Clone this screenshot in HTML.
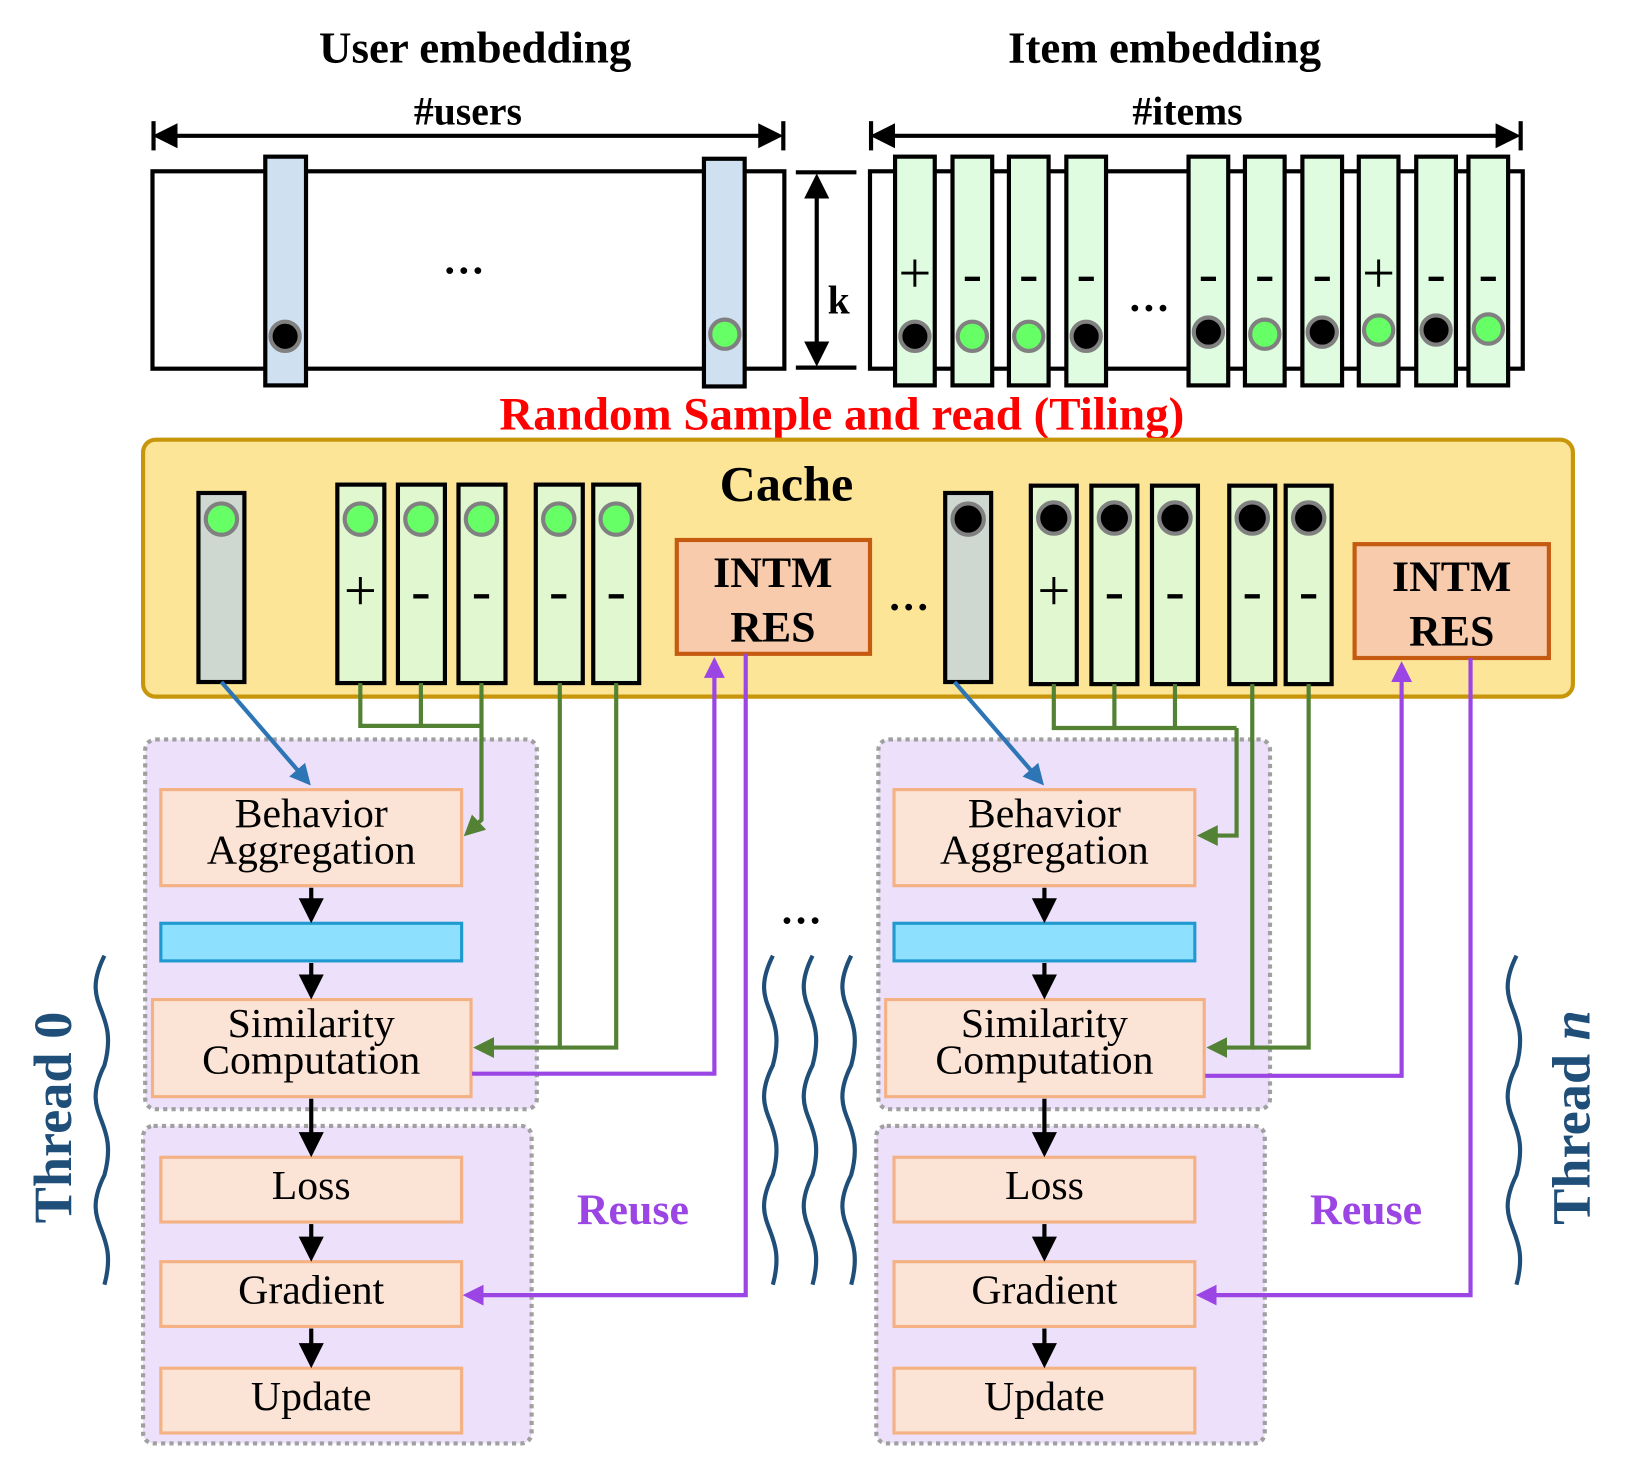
<!DOCTYPE html><html><head><style>body{margin:0;background:#fff}svg{display:block}</style></head><body>
<svg width="1646" height="1457" viewBox="0 0 1576 1395" preserveAspectRatio="none" xmlns="http://www.w3.org/2000/svg" font-family="Liberation Serif, serif">
<defs>
<marker id="ak" markerWidth="6" markerHeight="6" refX="5" refY="3" orient="auto-start-reverse" markerUnits="strokeWidth"><path d="M0,0L6,3L0,6z" fill="#000"/></marker>
<marker id="ab" markerWidth="5" markerHeight="5" refX="4" refY="2.5" orient="auto" markerUnits="strokeWidth"><path d="M0,0L5,2.5L0,5z" fill="#2e75b6"/></marker>
<marker id="ag" markerWidth="5" markerHeight="5" refX="4" refY="2.5" orient="auto" markerUnits="strokeWidth"><path d="M0,0L5,2.5L0,5z" fill="#548235"/></marker>
<marker id="ap" markerWidth="5" markerHeight="5" refX="4" refY="2.5" orient="auto" markerUnits="strokeWidth"><path d="M0,0L5,2.5L0,5z" fill="#9b45e4"/></marker>
</defs>
<g font-weight="bold" text-anchor="middle" font-size="43">
<text x="455" y="60">User embedding</text><text x="1115" y="60">Item embedding</text>
<text x="448" y="119" font-size="38">#users</text><text x="1137" y="119" font-size="38">#items</text>
<text x="806" y="411" fill="#f00" font-size="45">Random Sample and read (Tiling)</text>
</g>
<g stroke="#000" stroke-width="4" fill="none">
<line x1="147" y1="116" x2="147" y2="144"/><line x1="750" y1="116" x2="750" y2="144"/>
<line x1="150" y1="130" x2="746" y2="130" marker-start="url(#ak)" marker-end="url(#ak)"/>
<line x1="834" y1="116" x2="834" y2="144"/><line x1="1456" y1="116" x2="1456" y2="144"/>
<line x1="837" y1="130" x2="1452" y2="130" marker-start="url(#ak)" marker-end="url(#ak)"/>
<line x1="762" y1="165" x2="820" y2="165"/><line x1="762" y1="352" x2="820" y2="352"/>
<line x1="782" y1="170" x2="782" y2="347" marker-start="url(#ak)" marker-end="url(#ak)"/>
<rect x="146" y="164" width="605" height="189"/><rect x="833" y="164" width="625" height="189"/>
</g>
<text x="803" y="300" font-size="38" font-weight="bold" text-anchor="middle">k</text>
<text x="444" y="262" font-size="40" font-weight="bold" text-anchor="middle">…</text>
<text x="1100" y="298" font-size="40" font-weight="bold" text-anchor="middle">…</text>
<g stroke="#000" stroke-width="4" fill="#cfe0f0"><rect x="254" y="150" width="39" height="219"/><rect x="674" y="152" width="39" height="218"/></g>
<g stroke="#808080" stroke-width="4"><circle cx="273" cy="322" r="14" fill="#000"/><circle cx="694" cy="320" r="14" fill="#66ff66"/></g>
<g stroke="#000" stroke-width="4" fill="#e0fce0">
<rect x="857" y="150" width="38" height="219"/><rect x="912" y="150" width="38" height="219"/><rect x="966" y="150" width="38" height="219"/><rect x="1021" y="150" width="38" height="219"/><rect x="1138" y="150" width="38" height="219"/><rect x="1192" y="150" width="38" height="219"/><rect x="1247" y="150" width="38" height="219"/><rect x="1301" y="150" width="38" height="219"/><rect x="1356" y="150" width="38" height="219"/><rect x="1406" y="150" width="38" height="219"/>
</g>
<g font-size="56" text-anchor="middle">
<text x="876" y="280">+</text><text x="931" y="280">-</text><text x="985" y="280">-</text><text x="1040" y="280">-</text><text x="1157" y="280">-</text><text x="1211" y="280">-</text><text x="1266" y="280">-</text><text x="1320" y="280">+</text><text x="1375" y="280">-</text><text x="1425" y="280">-</text>
</g>
<g stroke="#808080" stroke-width="4">
<circle cx="876" cy="322" r="14" fill="#000"/><circle cx="931" cy="322" r="14" fill="#66ff66"/><circle cx="985" cy="322" r="14" fill="#66ff66"/><circle cx="1040" cy="322" r="14" fill="#000"/><circle cx="1157" cy="318" r="14" fill="#000"/><circle cx="1211" cy="320" r="14" fill="#66ff66"/><circle cx="1266" cy="318" r="14" fill="#000"/><circle cx="1320" cy="316" r="14" fill="#66ff66"/><circle cx="1375" cy="316" r="14" fill="#000"/><circle cx="1425" cy="315" r="14" fill="#66ff66"/>
</g>
<rect x="137" y="421" width="1369" height="246" rx="12" fill="#fde598" stroke="#c8960a" stroke-width="4"/>
<text x="753" y="479" font-size="48" font-weight="bold" text-anchor="middle">Cache</text>
<text x="870" y="584" font-size="40" font-weight="bold" text-anchor="middle">…</text>
<g stroke="#000" stroke-width="4">
<rect x="190" y="472" width="44" height="181" fill="#cfd8d0"/><rect x="905" y="472" width="44" height="181" fill="#cfd8d0"/>
<g fill="#e0f7d0">
<rect x="323" y="464" width="45" height="190"/><rect x="381" y="464" width="45" height="190"/><rect x="439" y="464" width="45" height="190"/><rect x="513" y="464" width="45" height="190"/><rect x="568" y="464" width="44" height="190"/>
<rect x="987" y="465" width="44" height="190"/><rect x="1045" y="465" width="44" height="190"/><rect x="1103" y="465" width="44" height="190"/><rect x="1177" y="465" width="44" height="190"/><rect x="1231" y="465" width="44" height="190"/>
</g></g>
<g font-size="56" text-anchor="middle">
<text x="345" y="584">+</text><text x="403" y="584">-</text><text x="461" y="584">-</text><text x="535" y="584">-</text><text x="590" y="584">-</text>
<text x="1009" y="584">+</text><text x="1067" y="584">-</text><text x="1125" y="584">-</text><text x="1199" y="584">-</text><text x="1253" y="584">-</text>
</g>
<g stroke="#808080" stroke-width="4">
<g fill="#66ff66"><circle cx="212" cy="497" r="15"/><circle cx="345" cy="497" r="15"/><circle cx="403" cy="497" r="15"/><circle cx="461" cy="497" r="15"/><circle cx="535" cy="497" r="15"/><circle cx="590" cy="497" r="15"/></g>
<g fill="#000"><circle cx="927" cy="497" r="15"/><circle cx="1009" cy="496" r="15"/><circle cx="1067" cy="496" r="15"/><circle cx="1125" cy="496" r="15"/><circle cx="1199" cy="496" r="15"/><circle cx="1253" cy="496" r="15"/></g>
</g>
<g stroke="#c55a11" stroke-width="4" fill="#f8cbad"><rect x="648" y="517" width="185" height="109"/><rect x="1297" y="521" width="186" height="109"/></g>
<g font-size="42" font-weight="bold" text-anchor="middle">
<text x="740" y="562">INTM</text><text x="740" y="614">RES</text><text x="1390" y="566">INTM</text><text x="1390" y="618">RES</text>
</g>
<g id="t0">
<rect x="139" y="708" width="375" height="354" rx="10" fill="#ede0fa" stroke="#a0a0a0" stroke-width="4" stroke-dasharray="4 4"/>
<rect x="137" y="1078" width="372" height="304" rx="10" fill="#ede0fa" stroke="#a0a0a0" stroke-width="4" stroke-dasharray="4 4"/>
<g fill="#fbe3d5" stroke="#f4b183" stroke-width="3">
<rect x="154" y="756" width="288" height="92"/><rect x="146" y="957" width="305" height="93"/><rect x="154" y="1108" width="288" height="62"/><rect x="154" y="1208" width="288" height="62"/><rect x="154" y="1310" width="288" height="62"/>
</g>
<rect x="154" y="884" width="288" height="36" fill="#8ee0ff" stroke="#1f9ad0" stroke-width="3"/>
<g font-size="40" text-anchor="middle">
<text x="298" y="792">Behavior</text><text x="298" y="827">Aggregation</text>
<text x="298" y="993">Similarity</text><text x="298" y="1028">Computation</text>
<text x="298" y="1148">Loss</text><text x="298" y="1248">Gradient</text><text x="298" y="1350">Update</text>
</g>
<g stroke="#000" stroke-width="4">
<line x1="298" y1="850" x2="298" y2="880" marker-end="url(#ak)"/><line x1="298" y1="922" x2="298" y2="953" marker-end="url(#ak)"/><line x1="298" y1="1052" x2="298" y2="1104" marker-end="url(#ak)"/><line x1="298" y1="1172" x2="298" y2="1204" marker-end="url(#ak)"/><line x1="298" y1="1272" x2="298" y2="1306" marker-end="url(#ak)"/>
</g>
<line x1="212" y1="653" x2="295" y2="749" stroke="#2e75b6" stroke-width="4" marker-end="url(#ab)"/>
<text x="606" y="1172" font-size="42" font-weight="bold" fill="#9b45e4" text-anchor="middle">Reuse</text>
</g>
<use href="#t0" x="702"/>
<g stroke="#548235" stroke-width="4" fill="none">
<path d="M345 654V695H461M403 654V695"/>
<path d="M461 654V785L447 798" marker-end="url(#ag)"/>
<path d="M590 654V1003H536"/>
<path d="M536 654V1003H457" marker-end="url(#ag)"/>
<path d="M1009 655V697H1184M1067 655V697M1125 655V697"/>
<path d="M1184 697V800H1150" marker-end="url(#ag)"/>
<path d="M1253 655V1003H1199"/>
<path d="M1199 655V1003H1159" marker-end="url(#ag)"/>
</g>
<g stroke="#9b45e4" stroke-width="4" fill="none">
<path d="M452 1028H684V633" marker-end="url(#ap)"/>
<path d="M714 626V1240H447" marker-end="url(#ap)"/>
<path d="M1154 1030H1342V637" marker-end="url(#ap)"/>
<path d="M1408 630V1240H1149" marker-end="url(#ap)"/>
</g>
<g fill="none" stroke="#1f4e79" stroke-width="4">
<path d="M100 915c-25 50 15 50 0 105c-25 50 15 50 0 105c-25 50 15 50 0 105"/>
<path d="M740 915c-25 50 15 50 0 105c-25 50 15 50 0 105c-25 50 15 50 0 105"/>
<path d="M778 915c-25 50 15 50 0 105c-25 50 15 50 0 105c-25 50 15 50 0 105"/>
<path d="M815 915c-25 50 15 50 0 105c-25 50 15 50 0 105c-25 50 15 50 0 105"/>
<path d="M1452 915c-25 50 15 50 0 105c-25 50 15 50 0 105c-25 50 15 50 0 105"/>
</g>
<text x="767" y="884" font-size="40" font-weight="bold" text-anchor="middle">…</text>
<text transform="translate(68,1070) rotate(-90)" font-size="52" font-weight="bold" fill="#1f4e79" text-anchor="middle">Thread 0</text>
<text transform="translate(1522,1070) rotate(-90)" font-size="52" font-weight="bold" fill="#1f4e79" text-anchor="middle">Thread <tspan font-style="italic">n</tspan></text>
</svg>
</body></html>
